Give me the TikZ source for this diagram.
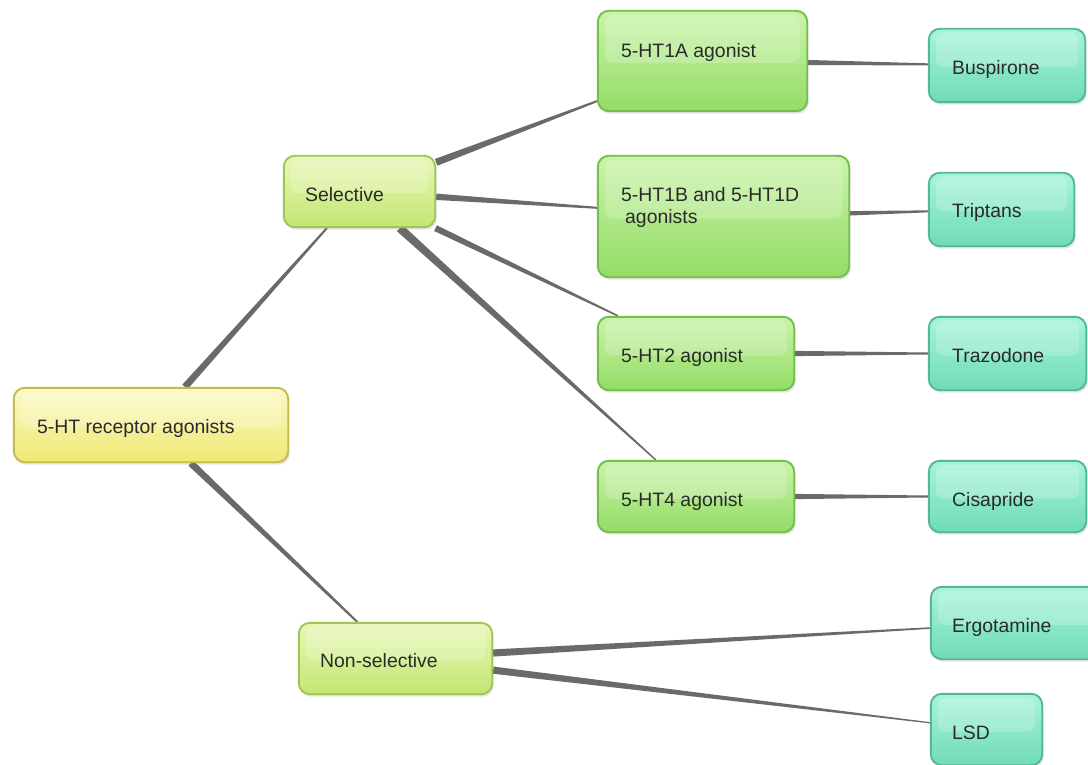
\documentclass[tikz,border=0pt]{standalone}
\usepackage{fontspec}
\setmainfont{Liberation Sans}
\usetikzlibrary{calc,shadows}
\pgfdeclarelayer{back}
\pgfdeclarelayer{bg}
\pgfsetlayers{back,bg,main}

\definecolor{ytop}{HTML}{FBF9C6}
\definecolor{ybot}{HTML}{EFE874}
\definecolor{ybd}{HTML}{C4BC4E}
\definecolor{ltop}{HTML}{E8F8B8}
\definecolor{lbot}{HTML}{C4E672}
\definecolor{lbd}{HTML}{A0C455}
\definecolor{gtop}{HTML}{CAF4AA}
\definecolor{gbot}{HTML}{94DC66}
\definecolor{gbd}{HTML}{74BE4C}
\definecolor{ttop}{HTML}{A8F4DC}
\definecolor{tbot}{HTML}{70DBB8}
\definecolor{tbd}{HTML}{56B698}
\definecolor{txt}{HTML}{2A2A2A}
\definecolor{lineg}{HTML}{6A6A6A}

\tikzset{
  box/.style={rounded corners=11pt, line width=1.9pt, inner sep=0pt,
    drop shadow={opacity=0.2, shadow xshift=1.5pt, shadow yshift=-2.5pt},
    path picture={\fill[white, opacity=0.2, rounded corners=8pt]
      ($(path picture bounding box.north west)+(7pt,-4pt)$) rectangle
      ($(path picture bounding box.east)+(-7pt,-2pt)$);}},
  rootbox/.style={box, draw=ybd, top color=ytop, bottom color=ybot},
  limebox/.style={box, draw=lbd, top color=ltop, bottom color=lbot},
  greenbox/.style={box, draw=gbd, top color=gtop, bottom color=gbot},
  tealbox/.style={box, draw=tbd, top color=ttop, bottom color=tbot},
  lbl/.style={anchor=base west, inner sep=0pt, text=txt,
    font=\fontsize{19.4}{22}\selectfont},
  conn/.style={fill=lineg},
}

\newcommand\taper[4]{%
  \pgfcoordinate{tpA}{\pgfpointshapeborder{#1}{\pgfpointanchor{#2}{center}}}%
  \pgfcoordinate{tpB}{\pgfpointshapeborder{#2}{\pgfpointanchor{#1}{center}}}%
  \fill[conn] ($(tpA)!#3!90:(tpB)$) -- ($(tpB)!#4!-90:(tpA)$) --
    ($(tpB)!#4!90:(tpA)$) -- ($(tpA)!#3!-90:(tpB)$) -- cycle;}

\begin{document}
\begin{tikzpicture}[x=1pt, y=-1pt]
\useasboundingbox (0,0) rectangle (1088,765);
\begin{pgfonlayer}{back}
  \fill[white] (0,0) rectangle (1088,765);
\end{pgfonlayer}

% boxes
\node[rootbox,  minimum width=274.4pt, minimum height=74.4pt]  (root)   at (151,425)    {};
\node[limebox,  minimum width=151.4pt, minimum height=71.4pt]  (sel)    at (359.5,191.5){};
\node[limebox,  minimum width=193.4pt, minimum height=71.4pt]  (nonsel) at (395.5,658.5){};
\node[greenbox, minimum width=209.4pt, minimum height=100.4pt] (a1)     at (702.5,61)   {};
\node[greenbox, minimum width=251.4pt, minimum height=121.4pt] (b1)     at (723.5,216.5){};
\node[greenbox, minimum width=196.4pt, minimum height=73.4pt]  (h2)     at (696,353.5)  {};
\node[greenbox, minimum width=196.4pt, minimum height=71.4pt]  (h4)     at (696,496.5)  {};
\node[tealbox,  minimum width=156.4pt, minimum height=73.4pt]  (busp)   at (1007,65.5)  {};
\node[tealbox,  minimum width=145.4pt, minimum height=73.4pt]  (trip)   at (1001.5,209.5){};
\node[tealbox,  minimum width=157.4pt, minimum height=73.4pt]  (traz)   at (1007.5,353.5){};
\node[tealbox,  minimum width=157.4pt, minimum height=71.4pt]  (cisa)   at (1007.5,496.5){};
\node[tealbox,  minimum width=178.4pt, minimum height=72.4pt]  (erg)    at (1020,623)   {};
\node[tealbox,  minimum width=111.4pt, minimum height=71.4pt]  (lsd)    at (986.5,729.5){};

% texts
\node[lbl] (troot)   at (37,433)  {5-HT receptor agonists};
\node[lbl] (tsel)    at (305,201) {Selective};
\node[lbl] (tnonsel) at (320,667) {Non-selective};
\node[lbl] (ta1)     at (621,58)  {5-HT1A agonist};
\node[lbl] (tb1a)    at (621,202) {5-HT1B and 5-HT1D};
\node[lbl] (tb1b)    at (625,224) {agonists};
\node[lbl] (th2)     at (621,362) {5-HT2 agonist};
\node[lbl] (th4)     at (621,506) {5-HT4 agonist};
\node[lbl] (tbusp)   at (952,75)  {Buspirone};
\node[lbl] (ttrip)   at (952,218) {Triptans};
\node[lbl] (ttraz)   at (952,362) {Trazodone};
\node[lbl] (tcisa)   at (952,506) {Cisapride};
\node[lbl] (terg)    at (952,632) {Ergotamine};
\node[lbl] (tlsd)    at (952,739) {LSD};

% connectors
\begin{pgfonlayer}{bg}
  \taper{root}{sel}{3.5pt}{1pt}
  \taper{root}{nonsel}{3.5pt}{1pt}
  \taper{sel}{a1}{3.6pt}{1pt}
  \taper{sel}{b1}{3.2pt}{1pt}
  \taper{sel}{h2}{3.2pt}{0.8pt}
  \taper{sel}{h4}{4.2pt}{0.7pt}
  \taper{nonsel}{erg}{3.6pt}{0.8pt}
  \taper{nonsel}{lsd}{3.6pt}{0.6pt}
  \taper{a1}{busp}{2.6pt}{1pt}
  \taper{b1}{trip}{2.2pt}{1pt}
  \taper{h2}{traz}{2.6pt}{1pt}
  \taper{h4}{cisa}{2.6pt}{1pt}
\end{pgfonlayer}
\end{tikzpicture}
\end{document}
